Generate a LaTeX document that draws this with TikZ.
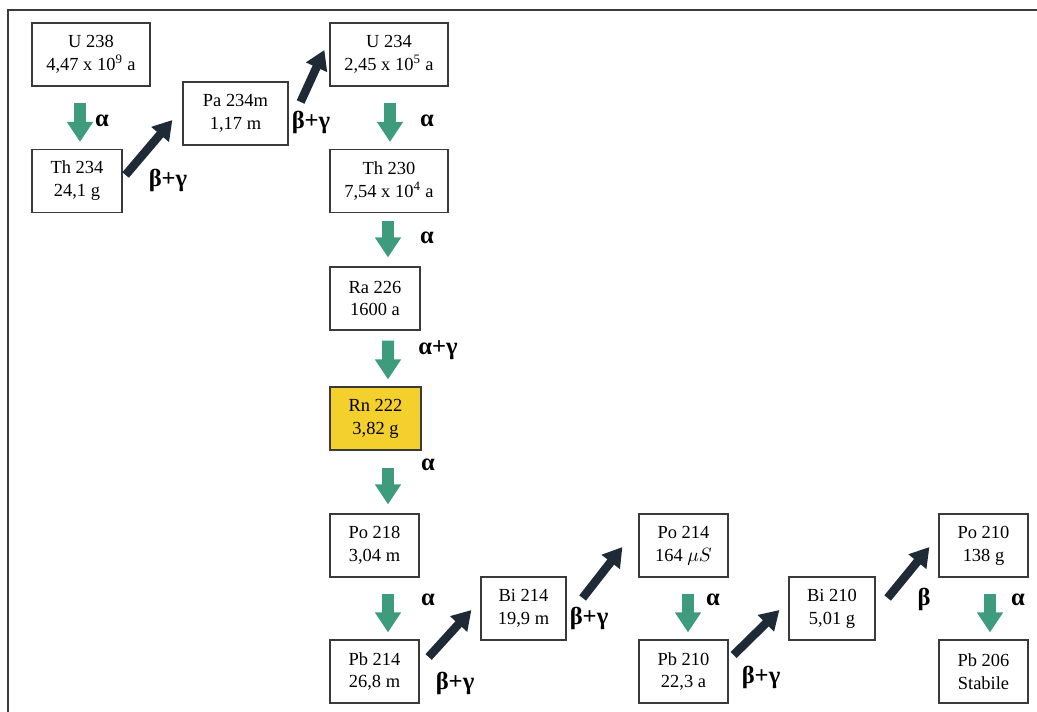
\documentclass[tikz,border=0pt]{standalone}
\usepackage{fontspec}
\setmainfont{Liberation Serif}
\usetikzlibrary{arrows.meta, calc}
\definecolor{cframe}{HTML}{3A3A3A}
\definecolor{cgreen}{HTML}{3E9C7C}
\definecolor{cnavy}{HTML}{1E2A35}
\definecolor{cyellow}{HTML}{F3D02C}
\tikzset{
  every picture/.style={line width=0.7pt},
  nuclide/.style={draw=cframe, fill=#1, align=center, minimum height=1.26cm, inner sep=2pt, font=\fontsize{10.5}{13}\selectfont},
  nuclide/.default=white,
  alphaarrow/.style={-{Triangle[length=4mm, width=5mm]}, draw=cgreen, line width=2.4mm},
  betaarrow/.style={-{Triangle[length=3.8mm, width=4.4mm]}, draw=cnavy, line width=1.7mm},
  decay/.style={font=\fontsize{14}{16}\selectfont\bfseries},
}

\begin{document}
\begin{tikzpicture}[x=0.02cm, y=-0.02cm]
  \useasboundingbox (0,0) rectangle (1037,712);
  \draw[cframe, line width=1.4pt] (8,712) -- (8,10) -- (1037,10);

  % uranium branch
  \node[nuclide, minimum width=2.36cm] (u238) at (91,54.5) {U 238\\4,47 x 10\textsuperscript{9} a};
  \node[nuclide, minimum width=1.8cm] (th234) at (77,181) {Th 234\\24,1 g};
  \node[nuclide, minimum width=2.1cm] (pa234m) at (235.5,113.5) {Pa 234m\\1,17 m};
  \node[nuclide, minimum width=2.36cm] (u234) at (389,54.5) {U 234\\2,45 x 10\textsuperscript{5} a};
  \node[nuclide, minimum width=2.36cm] (th230) at (389,181) {Th 230\\7,54 x 10\textsuperscript{4} a};
  \node[nuclide, minimum width=1.8cm] (ra226) at (375,298.5) {Ra 226\\1600 a};
  \node[nuclide=cyellow, minimum width=1.82cm] (rn222) at (375.5,418.5) {Rn 222\\3,82 g};

  % radon daughters
  \node[nuclide, minimum width=1.78cm] (po218) at (374.5,545.5) {Po 218\\3,04 m};
  \node[nuclide, minimum width=1.78cm] (pb214) at (374.5,671.5) {Pb 214\\26,8 m};
  \node[nuclide, minimum width=1.7cm] (bi214) at (523.5,608.5) {Bi 214\\19,9 m};
  \node[nuclide, minimum width=1.78cm] (po214) at (683.5,545.5) {Po 214\\164 $\mu S$};
  \node[nuclide, minimum width=1.78cm] (pb210) at (683.5,671.5) {Pb 210\\22,3 a};
  \node[nuclide, minimum width=1.72cm] (bi210) at (832,608.5) {Bi 210\\5,01 g};
  \node[nuclide, minimum width=1.78cm] (po210) at (983.5,545.5) {Po 210\\138 g};
  \node[nuclide, minimum width=1.78cm] (pb206) at (983.5,671.5) {Pb 206\\Stabile};

  % alpha decays
  \draw[alphaarrow] ($(u238.south)+(-11,16)$) -- ($(th234.north)+(3,-7)$);
  \draw[alphaarrow] ($(u234.south)+(1,16)$) -- ($(th230.north)+(1,-7)$);
  \draw[alphaarrow] ($(th230.south)+(-1,8)$) -- ($(ra226.north)+(13,-9)$);
  \draw[alphaarrow] ($(ra226.south)+(13,10)$) -- ($(rn222.north)+(12.5,-7)$);
  \draw[alphaarrow] ($(rn222.south)+(12.5,17)$) -- ($(po218.north)+(13.5,-9)$);
  \draw[alphaarrow] ($(po218.south)+(13.5,16)$) -- ($(pb214.north)+(13.5,-7)$);
  \draw[alphaarrow] ($(po214.south)+(4.5,16)$) -- ($(pb210.north)+(4.5,-7)$);
  \draw[alphaarrow] ($(po210.south)+(6.5,16)$) -- ($(pb206.north)+(6.5,-7)$);

  % beta decays
  \draw[betaarrow] ($(th234.east)+(3,-6)$) -- ($(pa234m.west)+(-10,6.5)$);
  \draw[betaarrow] ($(pa234m.east)+(12,-11.5)$) -- ($(u234.west)+(-5,-4.5)$);
  \draw[betaarrow] ($(pb214.east)+(9,-14.5)$) -- ($(bi214.west)+(-9,1.5)$);
  \draw[betaarrow] ($(bi214.east)+(16,-10.5)$) -- ($(po214.west)+(-16,1.5)$);
  \draw[betaarrow] ($(pb210.east)+(5,-16.5)$) -- ($(bi210.west)+(-9,1.5)$);
  \draw[betaarrow] ($(bi210.east)+(12,-10.5)$) -- ($(po210.west)+(-9,1.5)$);

  % labels
  \node[decay] (lu238) at (102,121) {α};
  \node[decay] (lth234) at (168,180) {β+γ};
  \node[decay] (lpa234m) at (311,122) {β+γ};
  \node[decay] (lu234) at (427,121) {α};
  \node[decay] (lth230) at (427,238) {α};
  \node[decay] (lra226) at (438,350) {α+γ};
  \node[decay] (lrn222) at (428,465) {α};
  \node[decay] (lpo218) at (428,600) {α};
  \node[decay] (lpb214) at (455,683) {β+γ};
  \node[decay] (lbi214) at (589,618) {β+γ};
  \node[decay] (lpo214) at (713,600) {α};
  \node[decay] (lpb210) at (761,677) {β+γ};
  \node[decay] (lbi210) at (924,599) {β};
  \node[decay] (lpo210) at (1018,600) {α};
\end{tikzpicture}
\end{document}
